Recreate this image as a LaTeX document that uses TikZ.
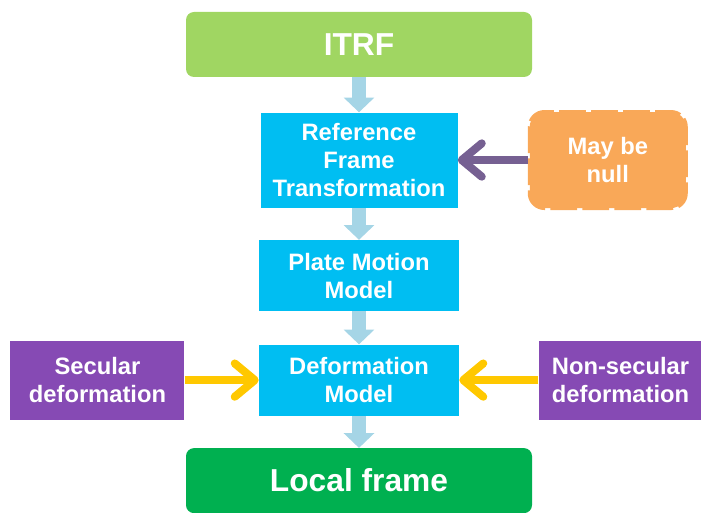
\documentclass[tikz,border=0pt]{standalone}
\usepackage{fontspec}
\setmainfont{Liberation Sans}
\usetikzlibrary{arrows.meta, positioning}
\usepackage{xcolor}
\definecolor{itrfgreen}{RGB}{160,214,98}
\definecolor{localgreen}{RGB}{0,176,80}
\definecolor{stepblue}{RGB}{0,190,242}
\definecolor{nullorange}{RGB}{249,168,88}
\definecolor{defpurple}{RGB}{134,74,180}
\definecolor{linkpurple}{RGB}{118,96,146}
\definecolor{linkyellow}{RGB}{255,200,0}
\definecolor{flowblue}{RGB}{165,213,230}

\begin{document}
\begin{tikzpicture}[x=0.75pt, y=-0.75pt,
  frame/.style={rectangle, rounded corners=6pt, text=white, align=center,
                minimum width=259.5pt, minimum height=48.75pt,
                font=\fontsize{23.8}{26}\selectfont\bfseries},
  stepbox/.style={rectangle, fill=stepblue, text=white, align=center,
                  minimum width=150pt, minimum height=53.25pt, inner sep=1pt,
                  font=\fontsize{17.8}{21}\selectfont\bfseries},
  sidebox/.style={rectangle, fill=defpurple, text=white, align=center,
                  minimum height=59.25pt, inner sep=1pt,
                  font=\fontsize{17.8}{21}\selectfont\bfseries},
  flow/.style={line width=11pt, draw=flowblue,
               -{Triangle[length=11pt, width=23pt, line width=0pt]}},
  link/.style={line width=6pt,
               -{Straight Barb[round, length=15pt, width=25pt]}}
]
\useasboundingbox (0,0) rectangle (701,513);

\node[frame, fill=itrfgreen] (itrf) at (359,44.5) {ITRF};

\node[stepbox, below=26.25pt of itrf, minimum width=147.75pt, minimum height=71.25pt] (ref)
  {Reference\\Frame\\Transformation};
\node[stepbox, below=24pt of ref] (plate) {Plate Motion\\Model};
\node[stepbox, below=24.75pt of plate] (deform) {Deformation\\Model};

\node[frame, fill=localgreen, below=24pt of deform] (local) {Local frame};

\node[rectangle, rounded corners=11pt, fill=nullorange, draw=nullorange,
      line width=3pt, dash pattern=on 20pt off 4pt, dash phase=8pt,
      minimum width=117pt, minimum height=72pt, text=white, align=center,
      font=\fontsize{17.8}{21}\selectfont\bfseries,
      right=52.5pt of ref] (null) {May be\\null};

\node[sidebox, minimum width=130.5pt, left=55.5pt of deform] (secular)
  {Secular\\deformation};
\node[sidebox, minimum width=123pt, right=59.25pt of deform] (nonsecular)
  {Non-secular\\deformation};

% vertical flow
\draw[flow] (itrf) -- (ref);
\draw[flow] (ref) -- (plate);
\draw[flow] (plate) -- (deform);
\draw[flow] (deform) -- (local);

% side inputs
\draw[link, draw=linkpurple] (null) -- (ref);
\draw[link, draw=linkyellow] (secular) -- (deform);
\draw[link, draw=linkyellow] (nonsecular) -- (deform);
\end{tikzpicture}
\end{document}
